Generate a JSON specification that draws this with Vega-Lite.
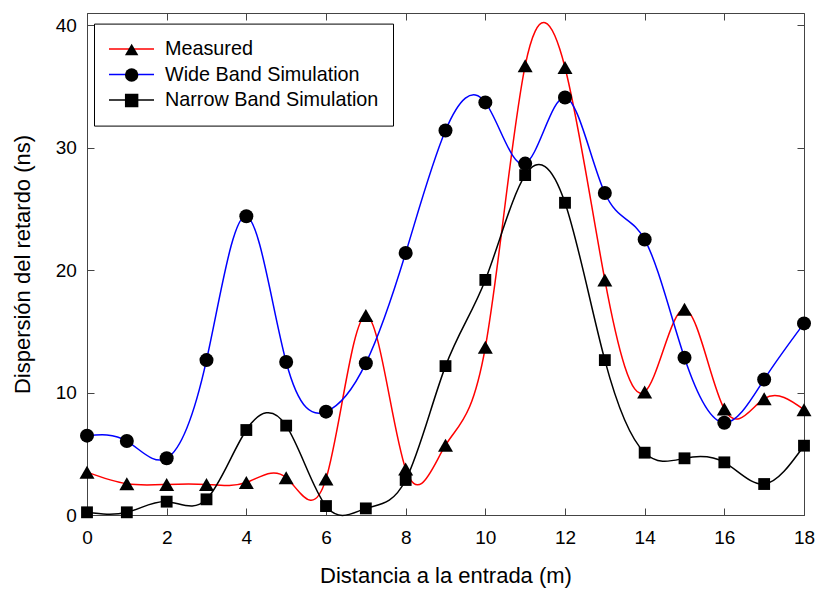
{
  "$schema": "https://vega.github.io/schema/vega-lite/v6.json",
  "width": 717,
  "height": 502,
  "autosize": {"type": "none"},
  "padding": {"left": 87, "top": 13, "right": 13, "bottom": 77},
  "background": "white",
  "config": {
    "font": "Liberation Sans",
    "view": {"stroke": "#444", "strokeWidth": 1},
    "axis": {
      "grid": false,
      "domainColor": "#444",
      "tickColor": "#444",
      "labelColor": "black",
      "titleColor": "black",
      "labelFont": "Liberation Sans",
      "titleFont": "Liberation Sans",
      "labelFontSize": 19,
      "titleFontSize": 22,
      "titleFontWeight": "normal",
      "tickSize": -7,
      "labelFlush": false
    }
  },
  "data": {
    "values": [
      {"x": 0, "series": "Measured", "y": 3.5},
      {"x": 1, "series": "Measured", "y": 2.55},
      {"x": 2, "series": "Measured", "y": 2.5},
      {"x": 3, "series": "Measured", "y": 2.5},
      {"x": 4, "series": "Measured", "y": 2.65},
      {"x": 5, "series": "Measured", "y": 3.05},
      {"x": 6, "series": "Measured", "y": 2.95},
      {"x": 7, "series": "Measured", "y": 16.3},
      {"x": 8, "series": "Measured", "y": 3.75},
      {"x": 9, "series": "Measured", "y": 5.7},
      {"x": 10, "series": "Measured", "y": 13.7},
      {"x": 11, "series": "Measured", "y": 36.7},
      {"x": 12, "series": "Measured", "y": 36.55},
      {"x": 13, "series": "Measured", "y": 19.2},
      {"x": 14, "series": "Measured", "y": 10.05},
      {"x": 15, "series": "Measured", "y": 16.8},
      {"x": 16, "series": "Measured", "y": 8.65},
      {"x": 17, "series": "Measured", "y": 9.5},
      {"x": 18, "series": "Measured", "y": 8.6},
      {"x": 0, "series": "Wide Band Simulation", "y": 6.48},
      {"x": 1, "series": "Wide Band Simulation", "y": 6.04},
      {"x": 2, "series": "Wide Band Simulation", "y": 4.63},
      {"x": 3, "series": "Wide Band Simulation", "y": 12.65},
      {"x": 4, "series": "Wide Band Simulation", "y": 24.4},
      {"x": 5, "series": "Wide Band Simulation", "y": 12.5},
      {"x": 6, "series": "Wide Band Simulation", "y": 8.44},
      {"x": 7, "series": "Wide Band Simulation", "y": 12.4},
      {"x": 8, "series": "Wide Band Simulation", "y": 21.4},
      {"x": 9, "series": "Wide Band Simulation", "y": 31.4},
      {"x": 10, "series": "Wide Band Simulation", "y": 33.7},
      {"x": 11, "series": "Wide Band Simulation", "y": 28.7},
      {"x": 12, "series": "Wide Band Simulation", "y": 34.1},
      {"x": 13, "series": "Wide Band Simulation", "y": 26.3},
      {"x": 14, "series": "Wide Band Simulation", "y": 22.5},
      {"x": 15, "series": "Wide Band Simulation", "y": 12.85},
      {"x": 16, "series": "Wide Band Simulation", "y": 7.54},
      {"x": 17, "series": "Wide Band Simulation", "y": 11.07},
      {"x": 18, "series": "Wide Band Simulation", "y": 15.65},
      {"x": 0, "series": "Narrow Band Simulation", "y": 0.22},
      {"x": 1, "series": "Narrow Band Simulation", "y": 0.22},
      {"x": 2, "series": "Narrow Band Simulation", "y": 1.09},
      {"x": 3, "series": "Narrow Band Simulation", "y": 1.28},
      {"x": 4, "series": "Narrow Band Simulation", "y": 6.94},
      {"x": 5, "series": "Narrow Band Simulation", "y": 7.3},
      {"x": 6, "series": "Narrow Band Simulation", "y": 0.73},
      {"x": 7, "series": "Narrow Band Simulation", "y": 0.54},
      {"x": 8, "series": "Narrow Band Simulation", "y": 2.86},
      {"x": 9, "series": "Narrow Band Simulation", "y": 12.16},
      {"x": 10, "series": "Narrow Band Simulation", "y": 19.2},
      {"x": 11, "series": "Narrow Band Simulation", "y": 27.76},
      {"x": 12, "series": "Narrow Band Simulation", "y": 25.5},
      {"x": 13, "series": "Narrow Band Simulation", "y": 12.65},
      {"x": 14, "series": "Narrow Band Simulation", "y": 5.09},
      {"x": 15, "series": "Narrow Band Simulation", "y": 4.63},
      {"x": 16, "series": "Narrow Band Simulation", "y": 4.3},
      {"x": 17, "series": "Narrow Band Simulation", "y": 2.53},
      {"x": 18, "series": "Narrow Band Simulation", "y": 5.66}
    ]
  },
  "layer": [
    {
      "mark": {"type": "line", "interpolate": "natural", "strokeWidth": 1.5},
      "encoding": {
        "x": {
          "field": "x", "type": "quantitative",
          "scale": {"domain": [0, 18], "nice": false, "zero": false},
          "axis": {"orient": "bottom", "values": [0, 2, 4, 6, 8, 10, 12, 14, 16, 18], "title": "Distancia a la entrada (m)", "labelPadding": 20.8, "titlePadding": 17.5}
        },
        "y": {
          "field": "y", "type": "quantitative",
          "scale": {"domain": [0, 41], "nice": false},
          "axis": {"orient": "left", "values": [0, 10, 20, 30, 40], "title": "Dispersión del retardo (ns)", "labelPadding": 17.7, "titlePadding": 21}
        },
        "color": {
          "field": "series", "type": "nominal",
          "scale": {"domain": ["Measured", "Wide Band Simulation", "Narrow Band Simulation"], "range": ["#ff0000", "#0000ff", "#000000"]},
          "legend": {
            "orient": "none", "legendX": 7, "legendY": 10.6, "title": null,
            "symbolType": "stroke", "symbolSize": 2025, "symbolStrokeWidth": 1.5,
            "clipHeight": 23, "rowPadding": 2.5, "padding": 14,
            "labelFontSize": 19.8, "labelFont": "Liberation Sans", "labelColor": "black", "labelOffset": 10, "labelLimit": 400,
            "strokeColor": "black", "cornerRadius": 0
          }
        }
      }
    },
    {
      "transform": [{"filter": "datum.series === 'Measured'"}],
      "mark": {"type": "point", "filled": true, "opacity": 1, "color": "black", "strokeWidth": 0, "size": 225},
      "encoding": {
        "x": {
          "field": "x", "type": "quantitative",
          "axis": {"orient": "top", "values": [0, 2, 4, 6, 8, 10, 12, 14, 16, 18], "labels": false, "title": null, "domain": false}
        },
        "y": {
          "field": "y", "type": "quantitative",
          "axis": {"orient": "right", "values": [0, 10, 20, 30, 40], "labels": false, "title": null, "domain": false}
        },
        "shape": {
          "field": "series", "type": "nominal",
          "scale": {"domain": ["Measured", "Wide Band Simulation", "Narrow Band Simulation"], "range": ["triangle-up", "circle", "square"]},
          "legend": {
            "orient": "top-left", "offset": 10.6, "title": null,
            "symbolSize": 180, "symbolFillColor": "black", "symbolStrokeColor": "black", "symbolStrokeWidth": 0,
            "clipHeight": 23, "rowPadding": 2.5, "padding": 14, "symbolOffset": 9.9,
            "labelFontSize": 19.5, "labelExpr": "''"
          }
        }
      }
    },
    {
      "transform": [{"filter": "datum.series === 'Wide Band Simulation'"}],
      "mark": {"type": "point", "filled": true, "opacity": 1, "color": "black", "strokeWidth": 0, "size": 196},
      "encoding": {
        "x": {"field": "x", "type": "quantitative", "axis": null},
        "y": {"field": "y", "type": "quantitative", "axis": null},
        "shape": {
          "field": "series", "type": "nominal",
          "scale": {"domain": ["Measured", "Wide Band Simulation", "Narrow Band Simulation"], "range": ["triangle-up", "circle", "square"]},
          "legend": {
            "orient": "top-left", "offset": 10.6, "title": null,
            "symbolSize": 180, "symbolFillColor": "black", "symbolStrokeColor": "black", "symbolStrokeWidth": 0,
            "clipHeight": 23, "rowPadding": 2.5, "padding": 14, "symbolOffset": 9.9,
            "labelFontSize": 19.5, "labelExpr": "''"
          }
        }
      }
    },
    {
      "transform": [{"filter": "datum.series === 'Narrow Band Simulation'"}],
      "mark": {"type": "point", "filled": true, "opacity": 1, "color": "black", "strokeWidth": 0, "size": 140},
      "encoding": {
        "x": {"field": "x", "type": "quantitative", "axis": null},
        "y": {"field": "y", "type": "quantitative", "axis": null},
        "shape": {
          "field": "series", "type": "nominal",
          "scale": {"domain": ["Measured", "Wide Band Simulation", "Narrow Band Simulation"], "range": ["triangle-up", "circle", "square"]},
          "legend": {
            "orient": "top-left", "offset": 10.6, "title": null,
            "symbolSize": 180, "symbolFillColor": "black", "symbolStrokeColor": "black", "symbolStrokeWidth": 0,
            "clipHeight": 23, "rowPadding": 2.5, "padding": 14, "symbolOffset": 9.9,
            "labelFontSize": 19.5, "labelExpr": "''"
          }
        }
      }
    }
  ],
  "resolve": {"axis": {"x": "independent", "y": "independent"}}
}
